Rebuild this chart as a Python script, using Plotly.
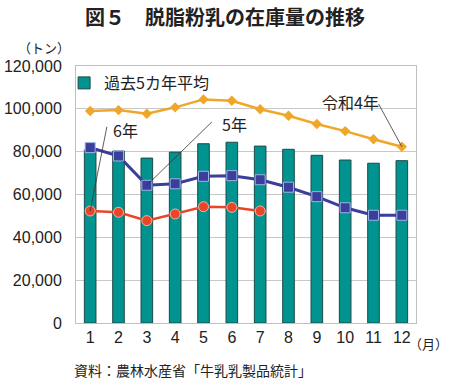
import plotly.graph_objects as go

months = list(range(1, 13))
month_labels = [str(m) for m in months]
avg5 = [80800, 80300, 77000, 79800, 83700, 84400, 82600, 81100, 78300, 76100, 74600, 75800]
r4 = [99000, 99400, 97700, 100700, 104400, 103800, 99800, 96800, 92900, 89600, 85800, 82300]
r5 = [81900, 78000, 64300, 65000, 68500, 68800, 66900, 63400, 59000, 53800, 50300, 50300]
r6 = [52300, 51700, 47800, 50900, 54300, 54000, 52300]
y_ticks = [0, 20000, 40000, 60000, 80000, 100000, 120000]

FONT = "Liberation Sans, Arial, Noto Sans CJK JP, sans-serif"
CJK = "Noto Sans CJK JP, sans-serif"

W, H = 450, 384
L, R, T, B = 76, 34, 66, 61
pw, ph = W - L - R, H - T - B


def px(x):
    return (x - L) / pw


def py(y):
    return (H - B - y) / ph


fig = go.Figure()
fig.add_trace(go.Bar(
    x=months, y=avg5, name="過去5カ年平均", width=0.41,
    marker=dict(color="#00938F", line=dict(color="#1E4A48", width=1)),
))
fig.add_trace(go.Scatter(
    x=months, y=r4, mode="lines+markers", name="令和4年", showlegend=False,
    line=dict(color="#F0A628", width=2.5),
    marker=dict(symbol="diamond", size=8, color="#F0A628"),
))
fig.add_trace(go.Scatter(
    x=months, y=r5, mode="lines+markers", name="5年", showlegend=False,
    line=dict(color="#3B3E9B", width=3),
    marker=dict(symbol="square", size=10, color="#3B3E9B", line=dict(color="#9DB3E8", width=1)),
))
fig.add_trace(go.Scatter(
    x=months[:len(r6)], y=r6, mode="lines+markers", name="6年", showlegend=False,
    line=dict(color="#E8452A", width=2.5),
    marker=dict(symbol="circle", size=10, color="#E8452A", line=dict(color="#F6B49A", width=1)),
))

# labels with leader lines: (label, series, month index, text x, text y, tail x, tail y)
labels = [
    ("6年", r6, 0, 2.25, 90000, 1.6, 92300),
    ("5年", r5, 2, 6.1, 93000, 5.35, 94600),
    ("令和4年", r4, 11, 10.2, 103000, 11.15, 103000),
]
for text, series, i, tx, ty, ax, ay in labels:
    fig.add_annotation(x=tx, y=ty, xref="x", yref="y", text=text, showarrow=False,
                       font=dict(family=CJK, size=16, color="#222"))
    fig.add_annotation(x=months[i], y=series[i], xref="x", yref="y", text="",
                       showarrow=True, arrowhead=0, arrowwidth=0.8, arrowcolor="#333",
                       axref="x", ayref="y", ax=ax, ay=ay, standoff=0, startstandoff=0)

fig.add_annotation(x=px(225), y=py(16), xref="paper", yref="paper", xanchor="center",
                   yanchor="middle", text="<b>図５　脱脂粉乳の在庫量の推移</b>", showarrow=False,
                   font=dict(family=CJK, size=20, color="#222"))
fig.add_annotation(x=px(16), y=py(47), xref="paper", yref="paper", text="（トン）", showarrow=False,
                   xanchor="left", yanchor="middle", font=dict(family=CJK, size=13, color="#222"))
fig.add_annotation(x=px(407), y=py(343), xref="paper", yref="paper", text="（月）", showarrow=False,
                   xanchor="left", yanchor="middle", font=dict(family=CJK, size=13, color="#222"))
fig.add_annotation(x=px(72), y=py(370), xref="paper", yref="paper",
                   text="資料：農林水産省「牛乳乳製品統計」",
                   showarrow=False, xanchor="left", yanchor="middle",
                   font=dict(family=CJK, size=14, color="#222"))

fig.update_layout(
    width=W, height=H, margin=dict(l=L, r=R, t=T, b=B, autoexpand=False),
    paper_bgcolor="white", plot_bgcolor="white",
    font=dict(family=FONT, size=16, color="#222"),
    showlegend=True,
    legend=dict(x=-0.035, y=1.0, xanchor="left", yanchor="top", bgcolor="rgba(0,0,0,0)",
                font=dict(family=CJK, size=16), itemwidth=30, tracegroupgap=0),
    xaxis=dict(range=[0.5, 12.5], tickmode="array", tickvals=months, ticktext=month_labels,
               showgrid=False, showline=True, linecolor="#BFBFBF", linewidth=1, mirror=True,
               ticks="", tickfont=dict(size=16), zeroline=False, automargin=False),
    yaxis=dict(range=[0, 120000], tickmode="array", tickvals=y_ticks,
               ticktext=[f"{v:,}" for v in y_ticks], showgrid=True, gridcolor="#C8C8C8",
               gridwidth=1, showline=True, linecolor="#BFBFBF", linewidth=1, mirror=True,
               ticks="", ticklabelstandoff=10, tickfont=dict(size=16), zeroline=False,
               automargin=False),
)

fig.write_html("out.html", config={"displayModeBar": False},
               post_script="document.body.style.margin='0';document.body.style.overflow='hidden';")
